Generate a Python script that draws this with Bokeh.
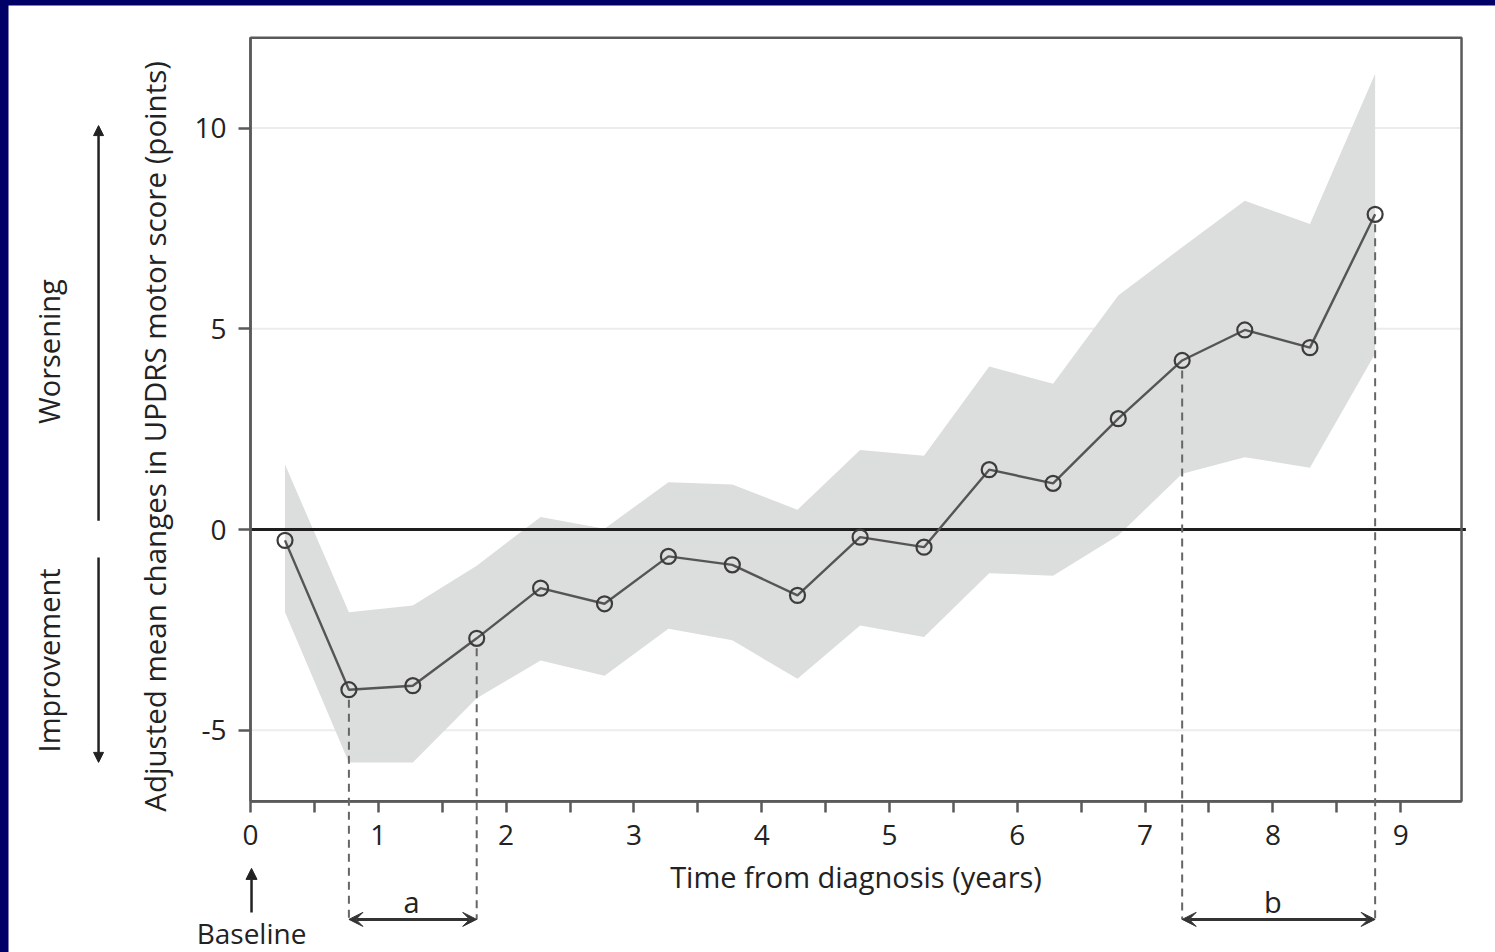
from math import pi

from bokeh.embed import file_html
from bokeh.layouts import column
from bokeh.models import (Arrow, BoxAnnotation, FixedTicker, Label,
                          LinearAxis, NormalHead, Range1d, VeeHead)
from bokeh.plotting import figure
from bokeh.resources import INLINE

# Visit times (years from diagnosis) and adjusted mean change with 95% CI
years = [0.27, 0.77, 1.27, 1.77, 2.27, 2.77, 3.27, 3.77, 4.28,
         4.77, 5.27, 5.78, 6.28, 6.79, 7.29, 7.78, 8.29, 8.80]
mean_change = [-0.27, -3.99, -3.89, -2.71, -1.46, -1.85, -0.67, -0.88, -1.64,
               -0.19, -0.44, 1.49, 1.15, 2.76, 4.21, 4.97, 4.53, 7.85]
ci_upper = [1.62, -2.06, -1.89, -0.90, 0.31, 0.02, 1.18, 1.12, 0.49,
            1.98, 1.84, 4.06, 3.63, 5.83, 7.03, 8.19, 7.61, 11.35]
ci_lower = [-2.06, -5.80, -5.80, -4.20, -3.26, -3.64, -2.47, -2.76, -3.72,
            -2.39, -2.68, -1.09, -1.15, -0.15, 1.39, 1.80, 1.54, 4.38]

x_major = [0, 1, 2, 3, 4, 5, 6, 7, 8, 9]
x_minor = [0.5, 1.5, 2.5, 3.5, 4.5, 5.5, 6.5, 7.5, 8.5]
y_ticks = [-5, 0, 5, 10]
y_tick_text = {-5: "-5", 0: "0", 5: "5", 10: "10"}
y_grid_ticks = [-5, 5, 10]

# Marked intervals: (start index, end index, label, label position)
intervals = [(1, 3, "a", 1.26), (14, 17, "b", 8.0)]

# extent of the plotting box in data units
X_LO, X_HI = 0.0, 9.476
Y_LO, Y_HI = -6.77, 12.25
ZERO_END = 9.51

FONT = "Open Sans"
TXT = "#222222"
FRAME = "#5a5a5a"

# The canvas itself spans the whole drawing so that the notes under the
# axis and the guides left of it can be placed in data units.
p = figure(width=1487, height=947,
           x_range=Range1d(-1.8936, 9.7418), y_range=Range1d(-10.535, 13.051),
           x_axis_location=None, y_axis_location=None,
           min_border=0, min_border_left=0, min_border_right=0,
           min_border_top=0, min_border_bottom=0,
           output_backend="svg", toolbar_location=None)
p.outline_line_color = None
p.background_fill_color = "white"
p.border_fill_color = "white"
p.grid.visible = False

# axes pinned to the edges of the box
xaxis = LinearAxis(fixed_location=Y_LO, bounds=(X_LO, X_HI),
                   ticker=FixedTicker(ticks=x_major, minor_ticks=x_minor))
yaxis = LinearAxis(fixed_location=X_LO, bounds=(Y_LO, Y_HI),
                   ticker=FixedTicker(ticks=y_ticks),
                   major_label_overrides=y_tick_text)
for ax in (xaxis, yaxis):
    ax.axis_line_color = FRAME
    ax.axis_line_width = 2.5
    ax.major_tick_line_color = FRAME
    ax.major_tick_line_width = 2.5
    ax.minor_tick_line_color = FRAME
    ax.minor_tick_line_width = 2.5
    ax.major_tick_in = 0
    ax.minor_tick_in = 0
    ax.major_label_text_font = FONT
    ax.major_label_text_font_size = "28px"
    ax.major_label_text_color = TXT
xaxis.major_tick_out = 11
xaxis.minor_tick_out = 11
xaxis.major_label_standoff = 13
yaxis.major_tick_out = 12
yaxis.minor_tick_out = 0
yaxis.major_label_standoff = 12
yaxis.major_label_orientation = "horizontal"

xaxis.axis_label = "Time from diagnosis (years)"
xaxis.axis_label_text_font = FONT
xaxis.axis_label_text_font_size = "29px"
xaxis.axis_label_text_font_style = "normal"
xaxis.axis_label_text_color = TXT
xaxis.axis_label_standoff = 8
p.add_layout(xaxis, "below")
p.add_layout(yaxis, "left")

# faint reference lines inside the box
p.segment(x0=X_LO, x1=X_HI, y0=y_grid_ticks, y1=y_grid_ticks,
          line_color="#ececec", line_width=2)

# confidence band
p.varea(x=years, y1=ci_lower, y2=ci_upper, fill_color="#dcdddd")

# solid line at zero change
p.segment(x0=X_LO, x1=ZERO_END, y0=[0], y1=[0],
          line_color="#1e1e1e", line_width=3)

# mean trajectory and visit markers
p.line(years, mean_change, line_color="#555555", line_width=2.4)
p.scatter(years, mean_change, marker="circle", size=15, fill_color=None,
          line_color="#3c3c3c", line_width=2.2)

# top and right edges of the box
p.add_layout(BoxAnnotation(left=X_LO, right=X_HI, bottom=Y_LO, top=Y_HI,
                           fill_alpha=0, line_color=FRAME, line_alpha=1,
                           line_width=2.5))

# dashed drop lines and interval arrows below the axis
y_bracket = -9.71
for i0, i1, name, name_x in intervals:
    for i in (i0, i1):
        p.add_layout(Arrow(x_start=years[i], y_start=mean_change[i] - 0.25,
                           x_end=years[i], y_end=y_bracket, end=None,
                           line_color="#666666", line_width=2,
                           line_dash="8 6"))
    p.add_layout(Arrow(x_start=years[i0], y_start=y_bracket,
                       x_end=years[i1], y_end=y_bracket,
                       start=VeeHead(size=14, fill_color="#333333",
                                     line_color="#333333", line_width=1),
                       end=VeeHead(size=14, fill_color="#333333",
                                   line_color="#333333", line_width=1),
                       line_color="#333333", line_width=3))
    p.add_layout(Label(x=name_x, y=-9.27, text=name,
                       text_align="center", text_baseline="middle",
                       text_font=FONT, text_font_size="29px",
                       text_color=TXT))

# baseline marker under the origin
p.add_layout(Arrow(x_start=0.008, y_start=-9.54, x_end=0.008, y_end=-8.44,
                   end=NormalHead(size=11, fill_color="#222222",
                                  line_color="#222222"),
                   line_color="#222222", line_width=2.5))
p.add_layout(Label(x=0.008, y=-10.05, text="Baseline", text_align="center",
                   text_baseline="middle", text_font=FONT,
                   text_font_size="28px", text_color=TXT))

# y-axis title
p.add_layout(Label(x=-0.75, y=2.32, angle=pi / 2,
                   text="Adjusted mean changes in UPDRS motor score (points)",
                   text_align="center", text_baseline="middle",
                   text_font=FONT, text_font_size="29.5px", text_color=TXT))

# direction guides
p.add_layout(Arrow(x_start=-1.189, y_start=0.22, x_end=-1.189, y_end=10.06,
                   end=NormalHead(size=10, fill_color="#222222",
                                  line_color="#222222"),
                   line_color="#222222", line_width=2.5))
p.add_layout(Arrow(x_start=-1.189, y_start=-0.70, x_end=-1.189, y_end=-5.80,
                   end=NormalHead(size=10, fill_color="#222222",
                                  line_color="#222222"),
                   line_color="#222222", line_width=2.5))
p.add_layout(Label(x=-1.58, y=4.43, angle=pi / 2, text="Worsening",
                   text_align="center", text_baseline="middle",
                   text_font=FONT, text_font_size="29px", text_color=TXT))
p.add_layout(Label(x=-1.58, y=-3.26, angle=pi / 2, text="Improvement",
                   text_align="center", text_baseline="middle",
                   text_font=FONT, text_font_size="29px", text_color=TXT))

page = column(p, styles={"background-color": "#000066",
                         "padding-left": "8px", "padding-top": "5px"})

open("out.html", "w").write(file_html(page, INLINE))
